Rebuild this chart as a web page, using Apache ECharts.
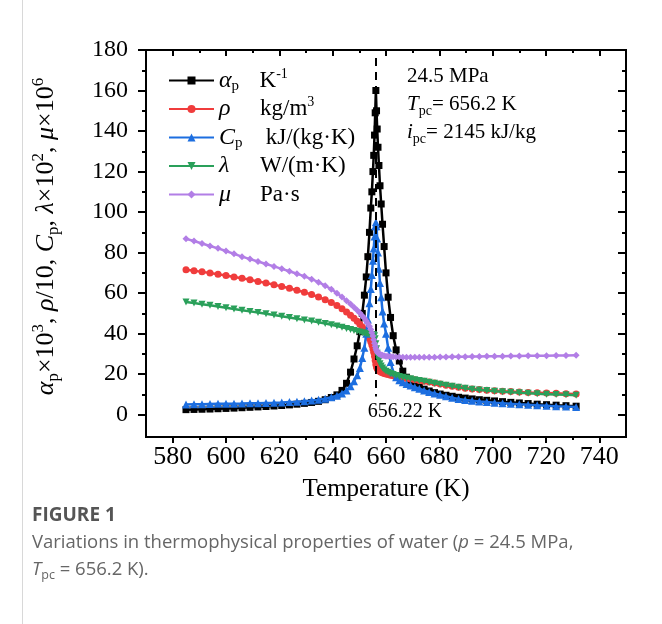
<!DOCTYPE html>
<html><head><meta charset="utf-8">
<style>html,body{margin:0;padding:0;background:#fff}#c{width:662px;height:624px}</style>
<script src="https://cdn.jsdelivr.net/npm/echarts@6/dist/echarts.min.js"></script>
</head><body><div id="c"></div>
<script>
// Temperature (K)
const temperature = [585,588,591,594,597,600,603,606,609,612,615,618,
620.9,623.8,626.6,629.4,632.1,634.7,637.2,639.5,641.6,643.5,645.2,646.7,
648,649.2,650.2,651.1,651.9,652.6,653.2,653.8,654.3,654.7,655.1,655.4,655.7,655.95,
656.2,
656.45,656.7,657,657.35,657.75,658.2,658.7,659.3,660,660.8,661.7,662.7,
663.8,665,666.3,667.7,669.2,670.8,672.5,674.3,676.2,678.2,680.3,682.5,684.8,687.2,689.7,
692.3,695,697.8,700.7,703.7,706.8,710,713.3,716.7,720.2,723.8,727.5,731.3];
// alpha_p x10^3 (K^-1)
const alphaP = [2.5,2.6,2.7,2.8,2.95,3.1,3.25,3.45,3.65,3.85,4.05,4.3,
4.55,4.85,5.2,5.6,6.05,6.6,7.4,8.5,9.8,12,15.5,21,
27.5,34,41,50,59,68,78,90,102,110,120,128,138,149,
160,
150,141,132,123,113,104,94,83,70,58,48,39,
32,26.5,21.5,18.5,16.3,14.8,13.6,12.6,11.7,10.9,10.2,9.6,9.1,8.6,8.2,
7.8,7.4,7.1,6.8,6.45,6.1,5.8,5.5,5.2,4.95,4.7,4.45,4.2];
// rho/10 (kg/m3)
const rho = [71.5,71,70.5,69.9,69.3,68.7,68,67.3,66.6,65.8,65,64.2,
63.3,62.4,61.4,60.4,59.3,58.1,56.8,55.4,53.9,52.3,50.7,49.1,
47.6,46.1,44.7,43.3,41.9,40.5,39.1,37.6,36,34.4,32.6,30.8,28.8,26.8,
24.8,
23.6,22.8,22.2,21.7,21.3,21,20.7,20.4,20.1,19.8,19.5,19.2,
18.9,18.6,18.2,17.9,17.6,17.3,16.9,16.5,16.1,15.6,15.1,14.6,14.1,13.6,13.1,
12.7,12.4,12.1,11.85,11.6,11.4,11.2,11,10.85,10.7,10.55,10.4,10.25];
// Cp (kJ/(kg K))
const cp = [5.1,5.15,5.2,5.3,5.35,5.4,5.45,5.5,5.6,5.7,5.8,5.9,
6.05,6.25,6.45,6.7,7.0,7.4,7.9,8.6,9.4,10.5,12,14,
16.5,19.5,23,28,33,40,47,55,62,69,76,82,88,93,
95,
93,87,80,72,65,58,51,45,40,33,26,21,
18.5,17,16,15.2,14.4,13.6,12.8,12,11.2,10.5,9.8,9.1,8.4,7.8,7.3,
6.9,6.55,6.25,5.95,5.7,5.45,5.2,4.95,4.7,4.45,4.2,4.0,3.85];
// lambda x10^2 (W/(m K))
const lambda = [55.6,55.1,54.5,54,53.4,52.8,52.2,51.6,51,50.4,49.8,49.2,
48.6,48,47.4,46.8,46.2,45.6,45,44.4,43.8,43.2,42.6,42.1,
41.6,41.2,40.8,40.5,40.2,40,39.8,39.7,39.6,39.6,39.6,39.5,39,37.5,
35,
32.5,30.3,28.3,26.6,25.2,24,23,22.2,21.5,20.9,20.4,19.9,
19.4,18.9,18.5,18.1,17.7,17.3,16.9,16.5,16,15.5,15,14.5,14,13.5,13,
12.6,12.2,11.9,11.6,11.3,11.05,10.8,10.55,10.35,10.15,9.95,9.8,9.65];
// mu x10^6 (Pa s)
const mu = [86.8,85.7,84.5,83.3,82.1,80.8,79.4,78,76.8,75.6,74.4,73.2,
72,70.8,69.6,68.3,66.9,65.4,63.7,61.9,60,58.1,56.3,54.6,
53,51.5,50.2,48.9,47.6,46.3,45,43.6,42.1,40.5,38.8,37,35.3,33.8,
32.6,
31.7,31,30.5,30.1,29.8,29.5,29.3,29.1,28.9,28.8,28.7,28.6,
28.5,28.45,28.4,28.4,28.35,28.35,28.35,28.35,28.4,28.4,28.45,28.5,28.55,28.6,28.65,
28.7,28.75,28.8,28.85,28.9,28.95,29,29.05,29.1,29.15,29.2,29.25,29.3];
const seriesNames = ['αp','ρ','Cp','λ','μ'];
const seriesColors = ['#000000','#f03c3c','#1c6ee0','#2aa05a','#b27ee6'];
const seriesSymbols = ['rect','circle','triangle','path://M0,0 L10,0 L5,9 Z','diamond'];
const pseudoCriticalT = 656.22;

const SERIF = '"Liberation Serif","Times New Roman",serif';
const SANS = '"Open Sans",sans-serif';
const chart = echarts.init(document.getElementById('c'), null, {renderer:'canvas'});
const allData = [alphaP, rho, cp, lambda, mu];

const legendLabels = {
  'αp': '{g|α}{sa|p}{u|K}{sup|-1}',
  'ρ': '{gw|ρ}{u|kg/m}{sup|3}',
  'Cp': '{g|C}{sc|p}{u| kJ/(kg·K)}',
  'λ': '{gw|λ}{u|W/(m·K)}',
  'μ': '{gw|μ}{u|Pa·s}'
};

const tickStyle = {color:'#000', width:2};
const series = seriesNames.map((n,k)=>({
  name:n, type:'line', xAxisIndex:0, yAxisIndex:0,
  data: temperature.map((t,i)=>[t, allData[k][i]]),
  symbol: seriesSymbols[k], symbolSize: k===2 ? 8 : 7,
  lineStyle:{width:2.5, color:seriesColors[k]},
  itemStyle:{color:seriesColors[k]},
  emphasis:{disabled:true},
  z: 2 + k,
  markLine: k===0 ? {
    silent:true, symbol:'none',
    label:{show:true, position:'end', distance:5, offset:[29,0], formatter: pseudoCriticalT.toFixed(2) + ' K',
           fontFamily:SERIF, fontSize:20, color:'#000'},
    lineStyle:{type:[8,6], color:'#000', width:2},
    data:[[{coord:[pseudoCriticalT,176]},{coord:[pseudoCriticalT,9]}]]
  } : undefined
}));

const hiddenAxis = (g)=>({gridIndex:g, type:'value', min:0, max:1, show:false});

const option = {
  animation:false,
  backgroundColor:'#fff',
  grid:[
    {left:146, right:36, top:50, bottom:187, show:true, borderColor:'#000', borderWidth:2, backgroundColor:'transparent'},
    {left:172.67, right:62.67, top:50, bottom:187},
    {left:146, right:36, top:50, bottom:209.29}
  ],
  xAxis:[
    {gridIndex:0, type:'value', min:570, max:750,
     axisLine:{show:false}, axisTick:{show:false}, axisLabel:{show:false}, splitLine:{show:false},
     name:'Temperature (K)', nameLocation:'middle', nameGap:40,
     nameTextStyle:{fontFamily:SERIF, fontSize:25, color:'#000'}},
    {gridIndex:1, type:'value', min:580, max:740, interval:20, position:'bottom',
     axisLine:{show:false}, axisTick:{show:true, length:6, lineStyle:tickStyle},
     minorTick:{show:true, splitNumber:2, length:3, lineStyle:tickStyle},
     axisLabel:{fontFamily:SERIF, fontSize:26, color:'#000', margin:7}, splitLine:{show:false}},
    {gridIndex:1, type:'value', min:580, max:740, interval:20, position:'top',
     axisLine:{show:false}, axisTick:{show:true, inside:true, length:6, lineStyle:tickStyle},
     minorTick:{show:true, splitNumber:2, length:3, lineStyle:tickStyle},
     axisLabel:{show:false}, splitLine:{show:false}},
    hiddenAxis(2)
  ],
  yAxis:[
    {gridIndex:0, type:'value', min:-11, max:180,
     axisLine:{show:false}, axisTick:{show:false}, axisLabel:{show:false}, splitLine:{show:false},
     name:'{i|α}{sb|p}{n|×10}{sp|3}{n|, }{i|ρ}{n|/10, }{i|C}{sb|p}{n|, }{i|λ}{n|×10}{sp|2}{n|, }{i|μ}{n|×10}{sp|6}',
     nameLocation:'middle', nameGap:84,
     nameTextStyle:{fontFamily:SERIF, fontSize:26, color:'#000', padding:[0,0,0,14],
       rich:{
         n:{fontFamily:SERIF, fontSize:26, color:'#000', lineHeight:32, verticalAlign:'middle'},
         i:{fontFamily:SERIF, fontSize:26, fontStyle:'italic', color:'#000', lineHeight:32, verticalAlign:'middle'},
         sb:{fontFamily:SERIF, fontSize:17, color:'#000', lineHeight:15, verticalAlign:'bottom'},
         sp:{fontFamily:SERIF, fontSize:17, color:'#000', lineHeight:17, verticalAlign:'top'}
       }}},
    hiddenAxis(1),
    {gridIndex:2, type:'value', min:0, max:180, interval:20, position:'left',
     axisLine:{show:false}, axisTick:{show:true, length:8, lineStyle:tickStyle},
     minorTick:{show:true, splitNumber:2, length:4, lineStyle:tickStyle},
     axisLabel:{fontFamily:SERIF, fontSize:24, color:'#000', margin:18}, splitLine:{show:false}},
    {gridIndex:2, type:'value', min:0, max:180, interval:20, position:'right',
     axisLine:{show:false}, axisTick:{show:true, inside:true, length:8, lineStyle:tickStyle},
     minorTick:{show:true, splitNumber:2, length:4, lineStyle:tickStyle},
     axisLabel:{show:false}, splitLine:{show:false}}
  ],
  legend:{
    orient:'vertical', left:168, top:67, padding:0, itemWidth:45, itemHeight:10, itemGap:1.5,
    data:seriesNames, selectedMode:false,
    formatter:(name)=>legendLabels[name],
    textStyle:{fontFamily:SERIF, fontSize:23, color:'#000', height:27, lineHeight:27,
      rich:{
        g:{fontFamily:SERIF, fontSize:24, fontStyle:'italic', color:'#000', lineHeight:27, verticalAlign:'middle'},
        gw:{fontFamily:SERIF, fontSize:24, fontStyle:'italic', color:'#000', lineHeight:27, verticalAlign:'middle', width:41},
        sa:{fontFamily:SERIF, fontSize:15, color:'#000', lineHeight:13, verticalAlign:'bottom', width:28},
        sc:{fontFamily:SERIF, fontSize:15, color:'#000', lineHeight:13, verticalAlign:'bottom', width:25},
        u:{fontFamily:SERIF, fontSize:23, color:'#000', lineHeight:27, verticalAlign:'middle'},
        sup:{fontFamily:SERIF, fontSize:14, color:'#000', lineHeight:13, verticalAlign:'top'}
      }}
  },
  graphic:[
    {type:'line', shape:{x1:22.5, y1:0, x2:22.5, y2:624}, style:{stroke:'#d8d8d8', lineWidth:1}, silent:true},
    {type:'text', x:407, y:62, silent:true,
     style:{text:'{n|24.5 MPa}\n{i|T}{sb|pc}{n|= 656.2 K}\n{i|i}{sb|pc}{n|= 2145 kJ/kg}',
       fontFamily:SERIF, fontSize:21, fill:'#000', align:'left', verticalAlign:'top',
       rich:{
         n:{fontFamily:SERIF, fontSize:21, fill:'#000', lineHeight:28, verticalAlign:'middle'},
         i:{fontFamily:SERIF, fontSize:21, fontStyle:'italic', fill:'#000', lineHeight:28, verticalAlign:'middle'},
         sb:{fontFamily:SERIF, fontSize:14, fill:'#000', lineHeight:12, verticalAlign:'bottom'}
       }}},
    {type:'text', x:32, y:516, silent:true,
     style:{text:'FIGURE 1', fontFamily:SANS, fontSize:19, fontWeight:'bold', fill:'#555', verticalAlign:'middle'}},
    {type:'text', x:32, y:543, silent:true,
     style:{text:'{n|Variations in thermophysical properties of water (}{i|p}{n| = 24.5 MPa,}',
       fontFamily:SANS, fontSize:18.5, fill:'#666', verticalAlign:'middle',
       rich:{
         n:{fontFamily:SANS, fontSize:18.5, fill:'#666'},
         i:{fontFamily:SANS, fontSize:18.5, fontStyle:'italic', fill:'#666'}
       }}},
    {type:'text', x:32, y:570, silent:true,
     style:{text:'{i|T}{sb|pc}{n| = 656.2 K).}',
       fontFamily:SANS, fontSize:18.5, fill:'#666', verticalAlign:'middle',
       rich:{
         n:{fontFamily:SANS, fontSize:18.5, fill:'#666', lineHeight:24, verticalAlign:'middle'},
         i:{fontFamily:SANS, fontSize:18.5, fontStyle:'italic', fill:'#666', lineHeight:24, verticalAlign:'middle'},
         sb:{fontFamily:SANS, fontSize:12.5, fill:'#666', lineHeight:11, verticalAlign:'bottom'}
       }}}
  ],
  series: series
};
chart.setOption(option);
</script></body></html>
